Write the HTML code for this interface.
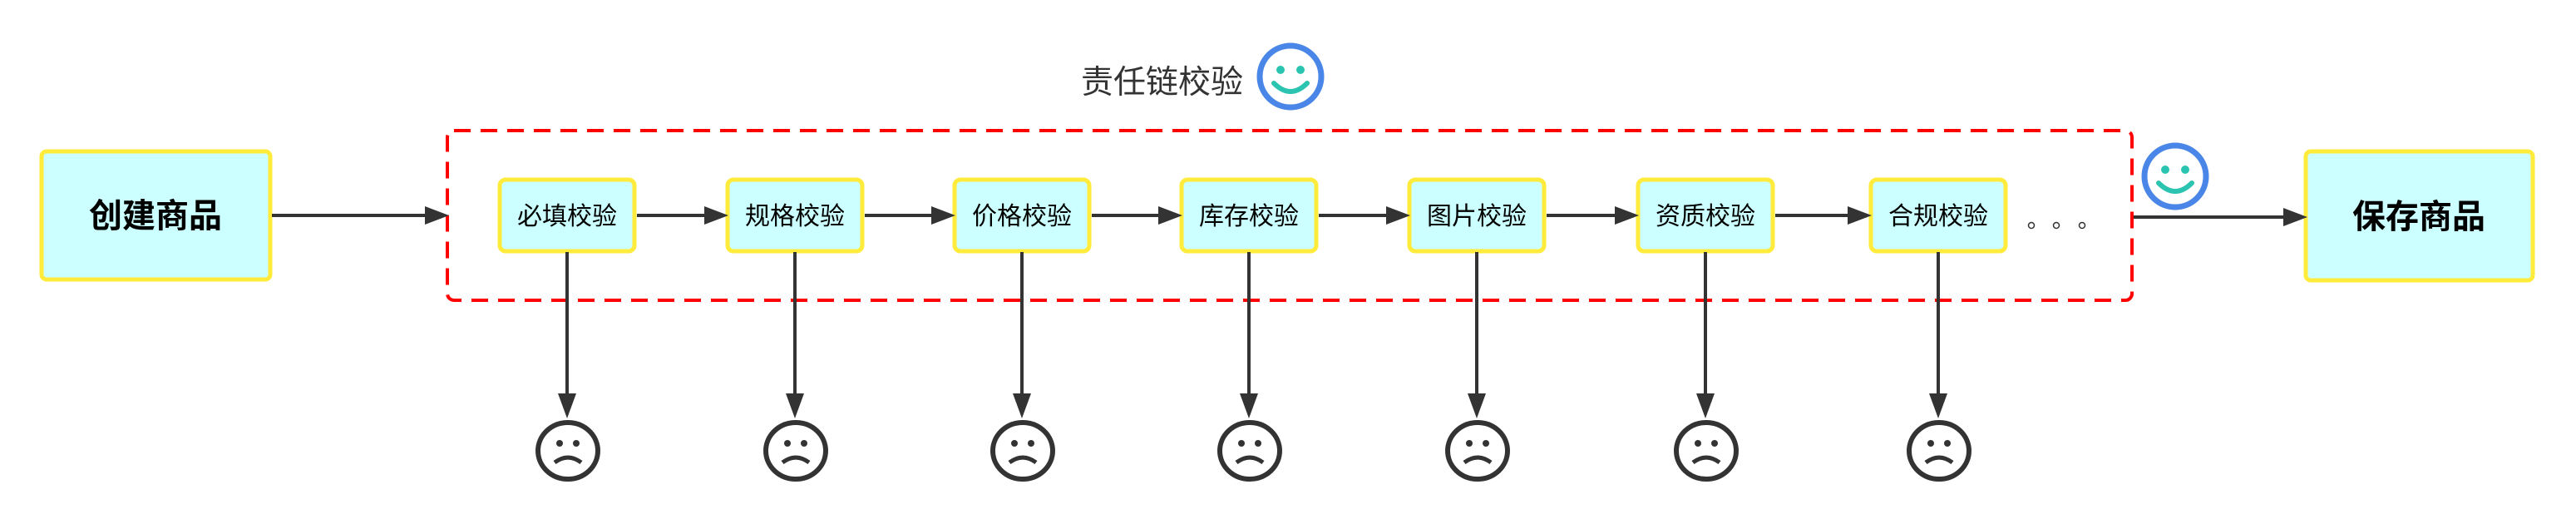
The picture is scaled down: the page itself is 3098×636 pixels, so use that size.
<!DOCTYPE html>
<html><head><meta charset="utf-8"><style>
html,body{margin:0;padding:0;background:#fff;}
svg{display:block;}
text{font-family:"Liberation Sans","Noto Sans CJK SC",sans-serif;}
</style></head><body>
<svg width="3098" height="636" viewBox="0 0 3098 636" xmlns="http://www.w3.org/2000/svg">
<defs>
<marker id="ah" markerWidth="10" markerHeight="10" refX="9" refY="5" orient="auto" markerUnits="userSpaceOnUse" viewBox="0 0 10 10">
</marker>
</defs>
<!-- title -->
<text x="1300" y="112" font-size="39" fill="#333">责任链校验</text>
<g transform="translate(1552,92)">
<circle r="37" fill="#fff" stroke="#4a86e8" stroke-width="7"/>
<circle cx="-12" cy="-8" r="5" fill="#2bc4b0"/><circle cx="12" cy="-8" r="5" fill="#2bc4b0"/>
<path d="M-20 8 Q0 28 20 8" fill="none" stroke="#2bc4b0" stroke-width="6" stroke-linecap="round"/>
</g>
<!-- dashed group -->
<rect x="538" y="157" width="2026" height="204" rx="8" fill="none" stroke="#ff0000" stroke-width="4" stroke-dasharray="20,12"/>
<!-- create -->
<rect x="50" y="182" width="275" height="154" rx="6" fill="#ccffff" stroke="#ffeb3b" stroke-width="5"/>
<text x="187" y="273" font-size="40" font-weight="bold" text-anchor="middle" fill="#000">创建商品</text>
<!-- save -->
<rect x="2773" y="182" width="273" height="155" rx="6" fill="#ccffff" stroke="#ffeb3b" stroke-width="5"/>
<text x="2909" y="274" font-size="40" font-weight="bold" text-anchor="middle" fill="#000">保存商品</text>
<!-- arrow create->group -->
<line x1="327" y1="259" x2="515" y2="259" stroke="#333" stroke-width="4"/>
<polygon points="540,259 511,248 511,270" fill="#333"/>
<!-- arrow group->save -->
<line x1="2566" y1="261" x2="2750" y2="261" stroke="#333" stroke-width="4"/>
<polygon points="2775,261 2746,250 2746,272" fill="#333"/>
<!-- right smiley -->
<g transform="translate(2616,212)">
<circle r="37" fill="#fff" stroke="#4a86e8" stroke-width="7"/>
<circle cx="-12" cy="-8" r="5" fill="#2bc4b0"/><circle cx="12" cy="-8" r="5" fill="#2bc4b0"/>
<path d="M-20 8 Q0 28 20 8" fill="none" stroke="#2bc4b0" stroke-width="6" stroke-linecap="round"/>
</g>
<!-- dots -->
<circle cx="2443" cy="271" r="3.5" fill="none" stroke="#333" stroke-width="1.5"/>
<circle cx="2473" cy="271" r="3.5" fill="none" stroke="#333" stroke-width="1.5"/>
<circle cx="2504" cy="271" r="3.5" fill="none" stroke="#333" stroke-width="1.5"/>
<!-- boxes -->
<g id="b">
</g>
<!-- generated nodes -->
<g font-size="30" fill="#000" text-anchor="middle">
<!-- node template repeated -->
<rect x="601" y="216" width="162" height="86" rx="7" fill="#ccffff" stroke="#ffeb3b" stroke-width="5"/>
<text x="682" y="270">必填校验</text>
<rect x="875" y="216" width="162" height="86" rx="7" fill="#ccffff" stroke="#ffeb3b" stroke-width="5"/>
<text x="956" y="270">规格校验</text>
<rect x="1148" y="216" width="162" height="86" rx="7" fill="#ccffff" stroke="#ffeb3b" stroke-width="5"/>
<text x="1229" y="270">价格校验</text>
<rect x="1421" y="216" width="162" height="86" rx="7" fill="#ccffff" stroke="#ffeb3b" stroke-width="5"/>
<text x="1502" y="270">库存校验</text>
<rect x="1695" y="216" width="162" height="86" rx="7" fill="#ccffff" stroke="#ffeb3b" stroke-width="5"/>
<text x="1776" y="270">图片校验</text>
<rect x="1970" y="216" width="162" height="86" rx="7" fill="#ccffff" stroke="#ffeb3b" stroke-width="5"/>
<text x="2051" y="270">资质校验</text>
<rect x="2250" y="216" width="162" height="86" rx="7" fill="#ccffff" stroke="#ffeb3b" stroke-width="5"/>
<text x="2331" y="270">合规校验</text>
</g>
<!-- horizontal arrows between boxes -->
<g stroke="#333" stroke-width="4">
<line x1="766" y1="259" x2="850" y2="259"/>
<line x1="1040" y1="259" x2="1123" y2="259"/>
<line x1="1313" y1="259" x2="1396" y2="259"/>
<line x1="1586" y1="259" x2="1670" y2="259"/>
<line x1="1860" y1="259" x2="1945" y2="259"/>
<line x1="2135" y1="259" x2="2225" y2="259"/>
</g>
<g fill="#333">
<polygon points="876,259 847,248 847,270"/>
<polygon points="1149,259 1120,248 1120,270"/>
<polygon points="1422,259 1393,248 1393,270"/>
<polygon points="1696,259 1667,248 1667,270"/>
<polygon points="1971,259 1942,248 1942,270"/>
<polygon points="2251,259 2222,248 2222,270"/>
</g>
<!-- vertical arrows and sad faces -->
<g stroke="#333" stroke-width="4">
<line x1="682" y1="303" x2="682" y2="478"/>
<line x1="956" y1="303" x2="956" y2="478"/>
<line x1="1229" y1="303" x2="1229" y2="478"/>
<line x1="1502" y1="303" x2="1502" y2="478"/>
<line x1="1776" y1="303" x2="1776" y2="478"/>
<line x1="2051" y1="303" x2="2051" y2="478"/>
<line x1="2331" y1="303" x2="2331" y2="478"/>
</g>
<g fill="#333">
<polygon points="682,503 671,473 693,473"/>
<polygon points="956,503 945,473 967,473"/>
<polygon points="1229,503 1218,473 1240,473"/>
<polygon points="1502,503 1491,473 1513,473"/>
<polygon points="1776,503 1765,473 1787,473"/>
<polygon points="2051,503 2040,473 2062,473"/>
<polygon points="2331,503 2320,473 2342,473"/>
</g>
<g id="sad" fill="none" stroke="#333">
<g transform="translate(683,542)"><ellipse rx="36" ry="34" stroke-width="6"/><circle cx="-10" cy="-9" r="4" fill="#333" stroke="none"/><circle cx="10" cy="-9" r="4" fill="#333" stroke="none"/><path d="M-16 14 Q0 2 16 14" stroke-width="5"/></g>
<g transform="translate(957,542)"><ellipse rx="36" ry="34" stroke-width="6"/><circle cx="-10" cy="-9" r="4" fill="#333" stroke="none"/><circle cx="10" cy="-9" r="4" fill="#333" stroke="none"/><path d="M-16 14 Q0 2 16 14" stroke-width="5"/></g>
<g transform="translate(1230,542)"><ellipse rx="36" ry="34" stroke-width="6"/><circle cx="-10" cy="-9" r="4" fill="#333" stroke="none"/><circle cx="10" cy="-9" r="4" fill="#333" stroke="none"/><path d="M-16 14 Q0 2 16 14" stroke-width="5"/></g>
<g transform="translate(1503,542)"><ellipse rx="36" ry="34" stroke-width="6"/><circle cx="-10" cy="-9" r="4" fill="#333" stroke="none"/><circle cx="10" cy="-9" r="4" fill="#333" stroke="none"/><path d="M-16 14 Q0 2 16 14" stroke-width="5"/></g>
<g transform="translate(1777,542)"><ellipse rx="36" ry="34" stroke-width="6"/><circle cx="-10" cy="-9" r="4" fill="#333" stroke="none"/><circle cx="10" cy="-9" r="4" fill="#333" stroke="none"/><path d="M-16 14 Q0 2 16 14" stroke-width="5"/></g>
<g transform="translate(2052,542)"><ellipse rx="36" ry="34" stroke-width="6"/><circle cx="-10" cy="-9" r="4" fill="#333" stroke="none"/><circle cx="10" cy="-9" r="4" fill="#333" stroke="none"/><path d="M-16 14 Q0 2 16 14" stroke-width="5"/></g>
<g transform="translate(2332,542)"><ellipse rx="36" ry="34" stroke-width="6"/><circle cx="-10" cy="-9" r="4" fill="#333" stroke="none"/><circle cx="10" cy="-9" r="4" fill="#333" stroke="none"/><path d="M-16 14 Q0 2 16 14" stroke-width="5"/></g>
</g>
</svg>
</body></html>
